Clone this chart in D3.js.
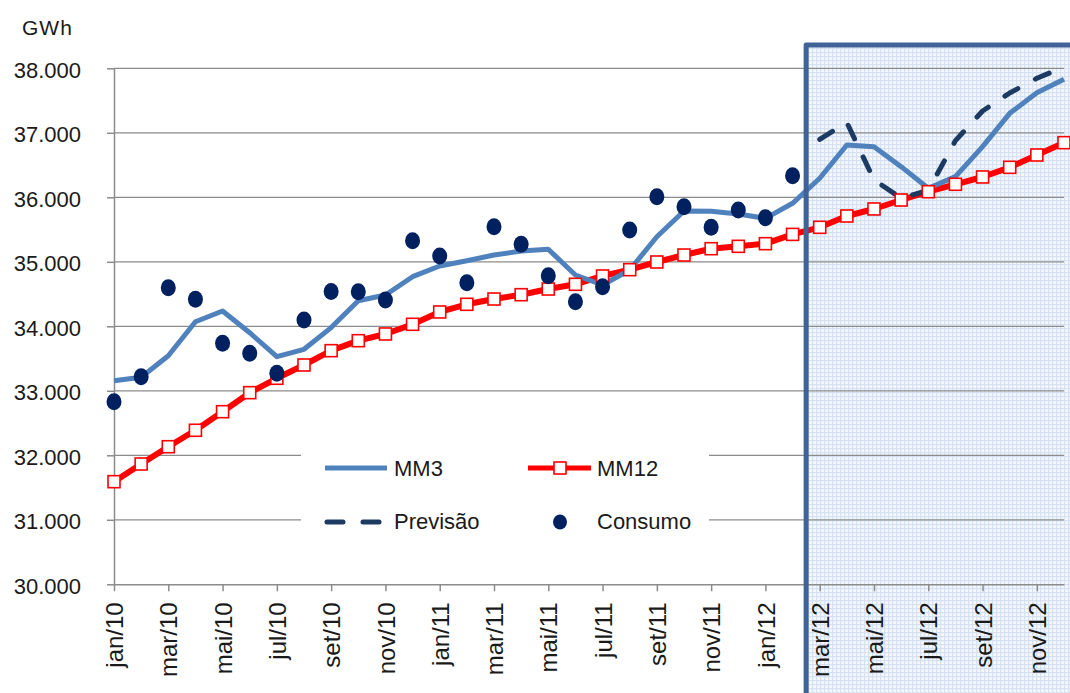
<!DOCTYPE html>
<html>
<head>
<meta charset="utf-8">
<script src="https://cdn.jsdelivr.net/npm/d3@7"></script>
<style>
  body { margin: 0; background: #fff; }
  svg { display: block; font-family: "Liberation Sans", Arial, sans-serif; }
</style>
</head>
<body>
<div id="chart"></div>
<script>
const months = [
  "jan/10","fev/10","mar/10","abr/10","mai/10","jun/10","jul/10","ago/10","set/10","out/10","nov/10","dez/10",
  "jan/11","fev/11","mar/11","abr/11","mai/11","jun/11","jul/11","ago/11","set/11","out/11","nov/11","dez/11",
  "jan/12","fev/12","mar/12","abr/12","mai/12","jun/12","jul/12","ago/12","set/12","out/12","nov/12","dez/12"
];

const mm3 = [
  33157, 33209, 33544, 34071, 34237, 33901, 33529, 33643, 33980, 34397, 34485, 34769,
  34935, 35017, 35105, 35167, 35194, 34795, 34640, 34873, 35389, 35788, 35785, 35741,
  35674, 35907, 36295, 36811, 36785, 36475, 36140, 36320, 36785, 37302, 37622, 37829
];

const mm12 = [
  31591, 31865, 32133, 32388, 32676, 32971, 33194, 33400, 33622, 33777, 33881, 34031,
  34222, 34341, 34423, 34490, 34578, 34651, 34780, 34878, 34997, 35105, 35203, 35240,
  35281, 35425, 35535, 35710, 35819, 35958, 36087, 36202, 36315, 36465, 36656, 36847
];

// forecast starts in mar/12
const previsao = [
  null, null, null, null, null, null, null, null, null, null, null, null,
  null, null, null, null, null, null, null, null, null, null, null, null,
  null, null, 36899, 37160, 36270, 35987, 36108, 36878, 37338, 37617, 37845, 38020
];

// measured consumption until fev/12
const consumo = [
  32831, 33219, 34598, 34419, 33736, 33581, 33271, 34098, 34540, 34536, 34408, 35327,
  35090, 34676, 35544, 35271, 34785, 34382, 34614, 35493, 36009, 35855, 35535, 35803,
  35684, 36335
];

const yTicks = [30000, 31000, 32000, 33000, 34000, 35000, 36000, 37000, 38000];

const W = 1070, H = 693;
const svg = d3.select("#chart").append("svg")
    .attr("width", W)
    .attr("height", H);

const x = d3.scalePoint()
    .domain(months)
    .range([114, 1064]);

const y = d3.scaleLinear()
    .domain([30000, 38000])
    .range([584.3, 68.3]);

const ptBR = d3.formatLocale({ decimal: ",", thousands: ".", grouping: [3], currency: ["R$", ""] });
const fmt = ptBR.format(",");

// light plaid pattern for the forecast area
const defs = svg.append("defs");
const pat = defs.append("pattern")
    .attr("id", "grid")
    .attr("width", 4).attr("height", 4)
    .attr("patternUnits", "userSpaceOnUse");
pat.append("rect").attr("width", 4).attr("height", 4).attr("fill", "#f5f8fc");
pat.append("rect").attr("width", 4).attr("height", 1.2).attr("fill", "#d6e2f2");
pat.append("rect").attr("width", 1.2).attr("height", 4).attr("fill", "#d6e2f2");

const shadeX = (x(months[25]) + x(months[26])) / 2;
const shadeTop = 45;

svg.append("rect")
    .attr("x", shadeX)
    .attr("y", shadeTop)
    .attr("width", W - shadeX + 10)
    .attr("height", H - shadeTop + 10)
    .attr("fill", "url(#grid)");

// gridlines
svg.append("g")
    .selectAll("line")
    .data(yTicks.filter(d => d !== 30000))
    .enter()
    .append("line")
    .attr("x1", 114)
    .attr("x2", 1064)
    .attr("y1", d => y(d))
    .attr("y2", d => y(d))
    .attr("stroke", "#8c8c8c")
    .attr("stroke-width", 1.3);

// axes
const xAxis = svg.append("g")
    .attr("transform", `translate(0,${y(30000)})`)
    .call(d3.axisBottom(x)
        .tickValues(months.filter((d, i) => i % 2 === 0))
        .tickSizeInner(7)
        .tickSizeOuter(0)
        .tickPadding(0));
xAxis.select(".domain").attr("stroke", "#8c8c8c").attr("stroke-width", 1.5);
xAxis.selectAll(".tick line").attr("stroke", "#8c8c8c").attr("stroke-width", 1.5);
xAxis.selectAll(".tick text")
    .attr("transform", "rotate(-90)")
    .attr("x", -18)
    .attr("y", 0)
    .attr("dy", "0.36em")
    .attr("text-anchor", "end")
    .attr("fill", "#1a1a1a")
    .style("font-size", "24px")
    .style("font-family", "Liberation Sans, Arial, sans-serif");

const yAxis = svg.append("g")
    .attr("transform", "translate(114,0)")
    .call(d3.axisLeft(y)
        .tickValues(yTicks)
        .tickFormat(fmt)
        .tickSizeInner(7)
        .tickSizeOuter(0)
        .tickPadding(26));
yAxis.select(".domain").attr("stroke", "#8c8c8c").attr("stroke-width", 1.5);
yAxis.selectAll(".tick line").attr("stroke", "#8c8c8c").attr("stroke-width", 1.5);
yAxis.selectAll(".tick text")
    .attr("dy", "0.4em")
    .attr("fill", "#1a1a1a")
    .style("font-size", "22px")
    .style("font-family", "Liberation Sans, Arial, sans-serif");

svg.append("text")
    .attr("x", 22)
    .attr("y", 35)
    .attr("fill", "#1a1a1a")
    .style("font-size", "21px")
    .style("letter-spacing", "1px")
    .text("GWh");

// legend box (white, hides gridlines behind it)
svg.append("rect")
    .attr("x", 301).attr("y", 430)
    .attr("width", 408).attr("height", 120)
    .attr("fill", "#fff");

// series
const line = d3.line()
    .defined(d => d != null)
    .x((d, i) => x(months[i]))
    .y(d => y(d));

svg.append("path")
    .datum(mm12)
    .attr("d", line)
    .attr("fill", "none")
    .attr("stroke", "#ff0000")
    .attr("stroke-width", 6)
    .attr("stroke-linejoin", "round");

svg.append("path")
    .datum(mm3)
    .attr("d", line)
    .attr("fill", "none")
    .attr("stroke", "#4f81bd")
    .attr("stroke-width", 5)
    .attr("stroke-linejoin", "round");

svg.append("path")
    .datum(previsao)
    .attr("d", line)
    .attr("fill", "none")
    .attr("stroke", "#1c3a62")
    .attr("stroke-width", 5)
    .attr("stroke-dasharray", "15,20")
    .attr("stroke-linecap", "round")
    .attr("stroke-linejoin", "round");

svg.append("g")
    .selectAll("rect")
    .data(mm12)
    .enter()
    .append("rect")
    .attr("x", (d, i) => x(months[i]) - 6)
    .attr("y", d => y(d) - 6)
    .attr("width", 12)
    .attr("height", 12)
    .attr("fill", "#fff")
    .attr("stroke", "#ff0000")
    .attr("stroke-width", 1.6);

svg.append("g")
    .selectAll("ellipse")
    .data(consumo)
    .enter()
    .append("ellipse")
    .attr("cx", (d, i) => x(months[i]))
    .attr("cy", d => y(d))
    .attr("rx", 7.5)
    .attr("ry", 8.5)
    .attr("fill", "#002060");

// border of the forecast area
svg.append("path")
    .attr("d", `M${shadeX},${H + 10} L${shadeX},${shadeTop} L${W + 10},${shadeTop}`)
    .attr("fill", "none")
    .attr("stroke", "#3f6396")
    .attr("stroke-width", 5)
    .attr("stroke-linejoin", "round");

// legend
const lg = svg.append("g").style("font-size", "22px").attr("fill", "#1a1a1a");

lg.append("line")
    .attr("x1", 325).attr("x2", 387).attr("y1", 468).attr("y2", 468)
    .attr("stroke", "#4f81bd").attr("stroke-width", 5);
lg.append("text").attr("x", 394).attr("y", 476).text("MM3");

lg.append("line")
    .attr("x1", 528).attr("x2", 591).attr("y1", 468).attr("y2", 468)
    .attr("stroke", "#ff0000").attr("stroke-width", 5);
lg.append("rect")
    .attr("x", 554).attr("y", 462).attr("width", 12).attr("height", 12)
    .attr("fill", "#fff").attr("stroke", "#ff0000").attr("stroke-width", 1.6);
lg.append("text").attr("x", 597).attr("y", 476).text("MM12");

lg.append("line")
    .attr("x1", 327).attr("x2", 385).attr("y1", 522).attr("y2", 522)
    .attr("stroke", "#1c3a62").attr("stroke-width", 5)
    .attr("stroke-dasharray", "16,20").attr("stroke-linecap", "round");
lg.append("text").attr("x", 394).attr("y", 529).text("Previsão");

lg.append("ellipse")
    .attr("cx", 560).attr("cy", 522).attr("rx", 7).attr("ry", 7.5)
    .attr("fill", "#002060");
lg.append("text").attr("x", 597).attr("y", 529).text("Consumo");
</script>
</body>
</html>
